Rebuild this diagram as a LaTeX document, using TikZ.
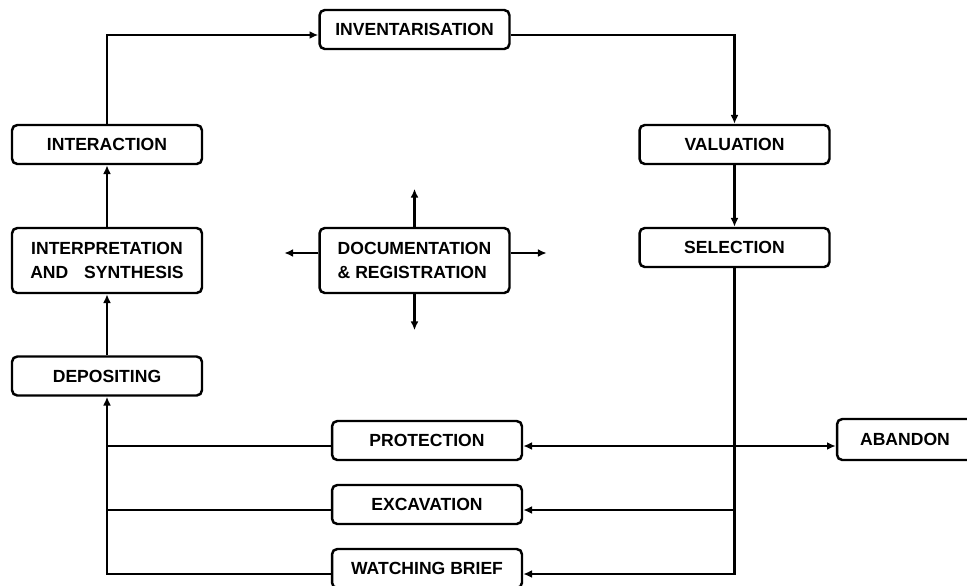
\documentclass[tikz,border=0pt]{standalone}
\usepackage{fontspec}
\setmainfont{Liberation Sans}
\usepackage{tikz}
\usetikzlibrary{positioning,arrows.meta}

\begin{document}
\begin{tikzpicture}[x=0.02cm,y=-0.02cm]

	\tikzset{stagestyle/.style={draw, rounded corners=3pt, line width=1.4pt, minimum width=3.8cm, minimum height=0.78cm, inner sep=0pt, font=\bfseries\fontsize{10}{13.6}\selectfont}}
	\tikzset{tallstyle/.style={stagestyle, minimum height=1.3cm}}
	\tikzset{flowedge/.style={-{Latex[length=5pt,width=4.5pt]}, line width=1.4pt}}
	\tikzset{plainedge/.style={-, line width=1.4pt}}

	\newcommand\lineDrop{-0.11cm}
	\newcommand\docuLift{0.15cm}

	\useasboundingbox (0,0) rectangle (967,585);

	% left column
	\node[stagestyle] at (107,144.5) (interact) {INTERACTION};
	\node[tallstyle, align=center] at (107,260.5) (interp) {INTERPRETATION\\AND\hspace{0.9em}SYNTHESIS};
	\node[stagestyle] at (107,376) (depos) {DEPOSITING};

	% top and right column
	\node[stagestyle] at (414.5,29.5) (inv) {INVENTARISATION};
	\node[stagestyle] at (734.5,144.5) (valu) {VALUATION};
	\node[stagestyle] at (734.5,247.5) (select) {SELECTION};

	% centre
	\node[tallstyle, align=left] at (414.5,260.5) (docu) {DOCUMENTATION\\\& REGISTRATION};

	% bottom row
	\node[stagestyle] at (427,440.5) (prot) {PROTECTION};
	\node[stagestyle] at (427,504.5) (excav) {EXCAVATION};
	\node[stagestyle] at (427,568.5) (watch) {WATCHING BRIEF};
	\node[stagestyle, minimum width=2.96cm, minimum height=0.82cm] at (911,439.5) (aband) {ABANDON\kern0.24cm};

	\coordinate (invIn) at ([yshift=\lineDrop]inv.west);
	\coordinate (invOut) at ([yshift=\lineDrop]inv.east);
	\coordinate (protIn) at ([yshift=\lineDrop]prot.east);
	\coordinate (protOut) at ([yshift=\lineDrop]prot.west);
	\coordinate (excavIn) at ([yshift=\lineDrop]excav.east);
	\coordinate (excavOut) at ([yshift=\lineDrop]excav.west);
	\coordinate (watchIn) at ([yshift=\lineDrop]watch.east);
	\coordinate (watchOut) at ([yshift=\lineDrop]watch.west);

	\coordinate[above=0.76cm of docu.north] (docuUp);
	\coordinate[below=0.72cm of docu.south] (docuDown);
	\coordinate (docuW) at ([yshift=\docuLift]docu.west);
	\coordinate (docuE) at ([yshift=\docuLift]docu.east);
	\coordinate[left=0.68cm of docuW] (docuLeft);
	\coordinate[right=0.72cm of docuE] (docuRight);

	\draw[flowedge] (interact.north) |- (invIn);
	\draw[flowedge] (invOut) -| (valu.north);
	\draw[flowedge] (valu) -- (select);
	\draw[flowedge] (select.south) |- (watchIn);
	\draw[flowedge] (protIn -| select.south) -- (protIn);
	\draw[flowedge] (protIn -| select.south) -- (protIn -| aband.west);
	\draw[flowedge] (excavIn -| select.south) -- (excavIn);

	\draw[flowedge] (watchOut) -| (depos.south);
	\draw[plainedge]
	(protOut) to (protOut -| depos.south)
	(excavOut) to (excavOut -| depos.south);
	\draw[flowedge] (depos) -- (interp);
	\draw[flowedge] (interp) -- (interact);

	\foreach \s/\e in {docu.north/docuUp, docu.south/docuDown, docuW/docuLeft, docuE/docuRight}
	{
		\draw[flowedge] (\s) -- (\e);
	}
\end{tikzpicture}
\end{document}
